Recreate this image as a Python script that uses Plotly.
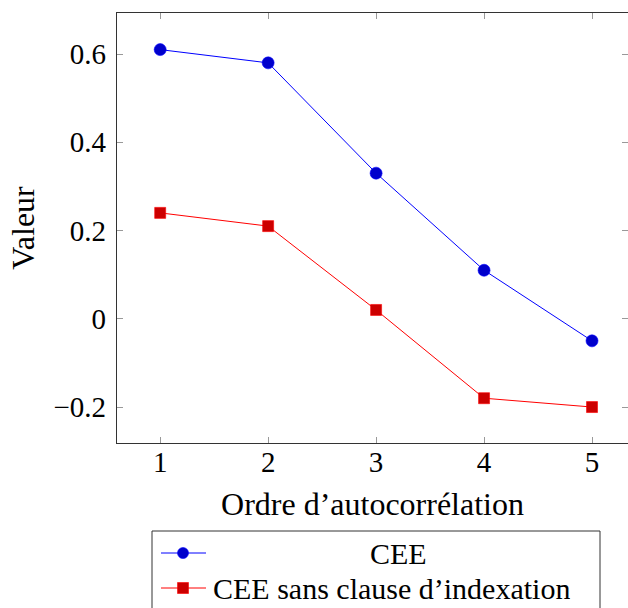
import plotly.graph_objects as go

# Autocorrelation order and the two series
ordres = [1, 2, 3, 4, 5]
cee = [0.61, 0.58, 0.33, 0.11, -0.05]
cee_sans_indexation = [0.24, 0.21, 0.02, -0.18, -0.20]

y_ticks = [-0.2, 0, 0.2, 0.4, 0.6]
y_tick_labels = ["\u22120.2", "0", "0.2", "0.4", "0.6"]
x_ticks = [1, 2, 3, 4, 5]
x_tick_labels = ["1", "2", "3", "4", "5"]

noms = ["CEE", "CEE sans clause d\u2019indexation"]

FONT = "Liberation Serif"
FS_TICK = 29
FS_TITLE = 32
FS_LEG = 30
W, H = 628, 608
L, R, T, B = 117, 0, 13, 165
pw, ph = W - L - R, H - T - B

fig = go.Figure()
fig.add_trace(go.Scatter(
    x=ordres, y=cee, mode="lines+markers", name=noms[0],
    line=dict(color="#0000ff", width=1),
    marker=dict(symbol="circle", size=12, color="#0000cc",
                line=dict(color="#0000ff", width=0.6)),
    showlegend=False,
))
fig.add_trace(go.Scatter(
    x=ordres, y=cee_sans_indexation, mode="lines+markers", name=noms[1],
    line=dict(color="#ff0000", width=1),
    marker=dict(symbol="square", size=11, color="#cc0000",
                line=dict(color="#ff0000", width=0.6)),
    showlegend=False,
))
# invisible trace carrying the right-hand tick marks
fig.add_trace(go.Scatter(x=[ordres[0]], y=[cee[0]], yaxis="y2",
                         mode="markers", marker=dict(opacity=0),
                         showlegend=False, hoverinfo="skip"))


def px_x(p):
    return (p - L) / pw


def px_y(p):
    return (H - B - p) / ph


# legend drawn below the axes
shapes = [dict(type="rect", xref="paper", yref="paper",
               x0=px_x(152), x1=px_x(600), y0=px_y(640), y1=px_y(531),
               line=dict(color="#333333", width=1), fillcolor="white")]
rows = [(553, "#0000ff", "#0000cc", "circle"), (588, "#ff0000", "#cc0000", "square")]
for yy, lc, fc, sym in rows:
    shapes.append(dict(type="line", xref="paper", yref="paper",
                       x0=px_x(161), x1=px_x(206), y0=px_y(yy), y1=px_y(yy),
                       line=dict(color=lc, width=1)))
    r = 5.5
    shapes.append(dict(type="circle" if sym == "circle" else "rect",
                       xref="paper", yref="paper",
                       x0=px_x(183 - r), x1=px_x(183 + r),
                       y0=px_y(yy + r), y1=px_y(yy - r),
                       line=dict(color=lc, width=0.6), fillcolor=fc))
annotations = [
    dict(text=noms[0], xref="paper", yref="paper",
         x=px_x(398), y=px_y(553), xanchor="center", yanchor="middle",
         height=30, showarrow=False,
         font=dict(family=FONT, size=FS_LEG, color="black")),
    dict(text=noms[1], xref="paper", yref="paper",
         x=px_x(211), y=px_y(588), xanchor="left", yanchor="middle",
         height=30, showarrow=False,
         font=dict(family=FONT, size=FS_LEG, color="black")),
]

axis_common = dict(ticks="inside", ticklen=6, tickwidth=1, tickcolor="#999999",
                   showgrid=False, zeroline=False,
                   tickfont=dict(family=FONT, size=FS_TICK, color="black"))

fig.update_layout(
    width=W, height=H,
    margin=dict(l=L, r=R, t=T, b=B),
    paper_bgcolor="white", plot_bgcolor="white",
    font=dict(family=FONT, color="black"),
    xaxis=dict(range=[0.6, 1 + (W - R - 160) / 108.0],
               tickvals=x_ticks, ticktext=x_tick_labels, ticklabelstandoff=-7,
               showline=True, linecolor="#333333", linewidth=1.2, mirror="ticks",
               title=dict(text="Ordre d\u2019autocorr\u00e9lation",
                          font=dict(family=FONT, size=FS_TITLE), standoff=15),
               **axis_common),
    yaxis=dict(range=[-0.2815, 0.693],
               tickvals=y_ticks, ticktext=y_tick_labels, ticklabelstandoff=4,
               showline=True, linecolor="#333333", linewidth=1.2, mirror=False,
               title=dict(text="Valeur", font=dict(family=FONT, size=FS_TITLE), standoff=9),
               **axis_common),
    yaxis2=dict(range=[-0.2815, 0.693], overlaying="y", side="right", anchor="x",
                tickvals=y_ticks, showticklabels=False, showline=False,
                ticks="inside", ticklen=6, tickwidth=1, tickcolor="#999999",
                showgrid=False, zeroline=False),
    shapes=shapes,
    annotations=annotations,
    showlegend=False,
)

fig.write_html("out.html")
